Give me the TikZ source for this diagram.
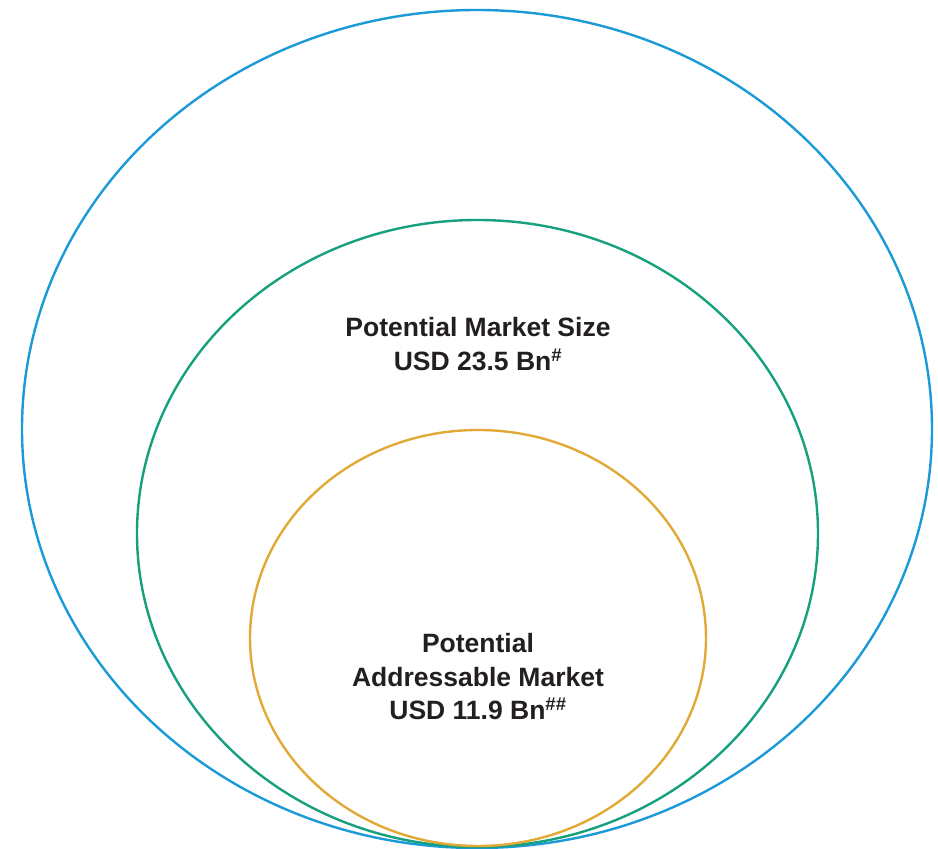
\documentclass[tikz,border=0pt]{standalone}
\usepackage{fontspec}
\setmainfont{Liberation Sans}
\definecolor{cblue}{HTML}{1A9AD6}
\definecolor{cgreen}{HTML}{17A07E}
\definecolor{corange}{HTML}{E1A935}
\definecolor{ctext}{HTML}{231F20}
\begin{document}
\begin{tikzpicture}[x=1pt,y=1pt,
  ring/.style={line width=2.4pt},
  label/.style={align=center,text=ctext,font=\bfseries\fontsize{26.5}{33.5}\selectfont,inner sep=0pt}]
\useasboundingbox (0,0) rectangle (938,849);
\draw[ring,cblue] (477,420) ellipse [x radius=455, y radius=419];
\draw[ring,cgreen] (477.5,315.5) ellipse [x radius=340.5, y radius=313.5];
\draw[ring,corange] (478,211) ellipse [x radius=228, y radius=208];
\node[label] (pms) at (478,505) {Potential Market Size\\USD 23.5 Bn\textsuperscript{\#}};
\node[label] (pam) at (478,172) {Potential\\Addressable Market\\USD 11.9 Bn\textsuperscript{\#\#}};
\end{tikzpicture}
\end{document}
